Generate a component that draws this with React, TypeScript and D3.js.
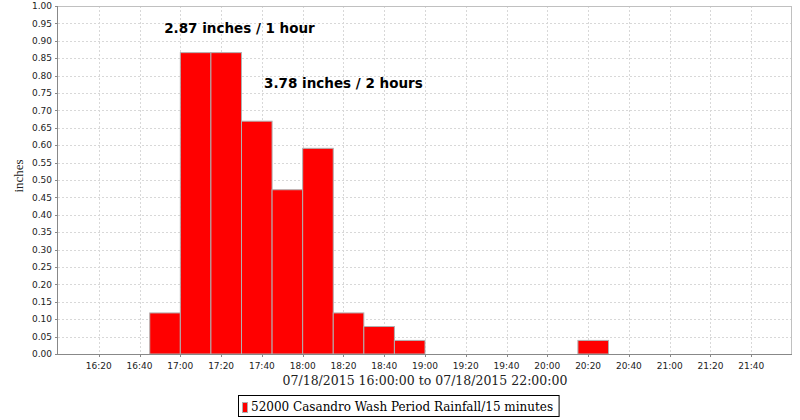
import React, { useEffect, useRef } from 'react';
import * as d3 from 'd3';

// 15-minute rainfall periods (start time of each bin) and amounts in inches
const binStarts = ['16:45', '17:00', '17:15', '17:30', '17:45', '18:00', '18:15', '18:30', '18:45', '20:15'];
const rainfall = [0.118, 0.866, 0.866, 0.669, 0.472, 0.591, 0.118, 0.079, 0.039, 0.039];

const xTickLabels = ['16:20', '16:40', '17:00', '17:20', '17:40', '18:00', '18:20', '18:40', '19:00', '19:20',
  '19:40', '20:00', '20:20', '20:40', '21:00', '21:20', '21:40'];
const yTickValues = [0, 0.05, 0.1, 0.15, 0.2, 0.25, 0.3, 0.35, 0.4, 0.45, 0.5, 0.55, 0.6, 0.65, 0.7, 0.75,
  0.8, 0.85, 0.9, 0.95, 1.0];

const annotationTexts = ['2.87 inches / 1 hour', '3.78 inches / 2 hours'];
const annotationTimes = ['17:29', '18:20'];
const annotationValues = [0.922, 0.764];

const seriesName = '52000 Casandro Wash Period Rainfall/15 minutes';
const xAxisTitle = '07/18/2015 16:00:00 to 07/18/2015 22:00:00';
const yAxisTitle = 'inches';

const parseTime = d3.utcParse('%Y-%m-%d %H:%M');
const t = (hm: string) => parseTime(`2015-07-18 ${hm}`) as Date;

const App: React.FC = () => {
  const ref = useRef<SVGSVGElement>(null);

  useEffect(() => {
    if (!ref.current) return;
    const svg = d3.select(ref.current);
    svg.selectAll('*').remove();

    const margin = { top: 6, right: 8, bottom: 66, left: 58 };
    const width = 800, height = 420;
    const x0 = margin.left, x1 = width - margin.right;
    const y0 = height - margin.bottom, y1 = margin.top;

    const x = d3.scaleUtc().domain([t('16:00'), t('22:00')]).range([x0, x1]);
    const y = d3.scaleLinear().domain([0, 1]).range([y0, y1]);

    const tickFont = 'DejaVu Sans, sans-serif';

    // fond
    svg.append('rect').attr('width', width).attr('height', height).attr('fill', '#fff');

    // grille
    const grid = svg.append('g').attr('stroke', '#d8d8d8').attr('stroke-dasharray', '2,2').attr('stroke-width', 1);
    grid.selectAll('.vg').data(xTickLabels).enter().append('line')
      .attr('x1', d => Math.round(x(t(d))) + 0.5).attr('x2', d => Math.round(x(t(d))) + 0.5)
      .attr('y1', y1).attr('y2', y0);
    grid.selectAll('.hg').data(yTickValues).enter().append('line')
      .attr('x1', x0).attr('x2', x1)
      .attr('y1', d => Math.round(y(d)) + 0.5).attr('y2', d => Math.round(y(d)) + 0.5);

    // barres
    svg.append('g').selectAll('rect').data(binStarts).enter().append('rect')
      .attr('x', d => x(t(d)))
      .attr('width', d => x(d3.utcMinute.offset(t(d), 15)) - x(t(d)))
      .attr('y', (d, i) => y(rainfall[i]))
      .attr('height', (d, i) => y0 - y(rainfall[i]))
      .attr('fill', '#ff0000')
      .attr('stroke', '#b0b0b0')
      .attr('stroke-width', 1);

    // bordure du tracé
    svg.append('line').attr('x1', x0).attr('x2', x1).attr('y1', y1 + 0.5).attr('y2', y1 + 0.5).attr('stroke', '#c0c0c0');
    svg.append('line').attr('x1', x1 - 0.5).attr('x2', x1 - 0.5).attr('y1', y1).attr('y2', y0).attr('stroke', '#c0c0c0');
    svg.append('line').attr('x1', x0 - 0.5).attr('x2', x0 - 0.5).attr('y1', y1).attr('y2', y0 + 1).attr('stroke', '#888');
    svg.append('line').attr('x1', x0).attr('x2', x1).attr('y1', y0 + 0.5).attr('y2', y0 + 0.5).attr('stroke', '#888');

    // axe x
    const xg = svg.append('g');
    xg.selectAll('line').data(xTickLabels).enter().append('line')
      .attr('x1', d => Math.round(x(t(d))) + 0.5).attr('x2', d => Math.round(x(t(d))) + 0.5)
      .attr('y1', y0 + 1).attr('y2', y0 + 3).attr('stroke', '#888');
    xg.selectAll('text').data(xTickLabels).enter().append('text')
      .attr('x', d => x(t(d))).attr('y', y0 + 15)
      .attr('text-anchor', 'middle')
      .style('font-family', tickFont).style('font-size', '9px').attr('fill', '#222')
      .text(d => d3.utcFormat('%H:%M')(t(d)));

    // axe y
    const yg = svg.append('g');
    yg.selectAll('line').data(yTickValues).enter().append('line')
      .attr('x1', x0 - 3).attr('x2', x0 - 1)
      .attr('y1', d => Math.round(y(d)) + 0.5).attr('y2', d => Math.round(y(d)) + 0.5).attr('stroke', '#888');
    yg.selectAll('text').data(yTickValues).enter().append('text')
      .attr('x', x0 - 6).attr('y', d => y(d)).attr('dy', '0.35em')
      .attr('text-anchor', 'end')
      .style('font-family', tickFont).style('font-size', '9px').attr('fill', '#222')
      .text(d => d3.format('.2f')(d));

    // titres des axes
    svg.append('text')
      .attr('x', (x0 + x1) / 2).attr('y', y0 + 31)
      .attr('text-anchor', 'middle')
      .style('font-family', 'DejaVu Serif, serif').style('font-size', '12.5px').attr('fill', '#222')
      .text(xAxisTitle);
    svg.append('text')
      .attr('transform', `translate(23, ${(y0 + y1) / 2 - 4}) rotate(-90)`)
      .attr('text-anchor', 'middle')
      .style('font-family', 'Liberation Serif, serif').style('font-size', '13px').attr('fill', '#222')
      .text(yAxisTitle);

    // annotations
    svg.append('g').selectAll('text').data(annotationTexts).enter().append('text')
      .attr('x', (d, i) => x(t(annotationTimes[i])))
      .attr('y', (d, i) => y(annotationValues[i]))
      .attr('text-anchor', 'middle')
      .style('font-family', tickFont).style('font-size', '13.5px').style('font-weight', 'bold').attr('fill', '#000')
      .text(d => d);

    // légende
    const leg = svg.append('g');
    const legText = leg.append('text')
      .attr('x', 251).attr('y', 411)
      .style('font-family', 'DejaVu Serif, serif').style('font-size', '12px').attr('fill', '#000')
      .text(seriesName);
    const bb = (legText.node() as SVGTextElement).getBBox();
    leg.insert('rect', 'text')
      .attr('x', 238.5).attr('y', 395.5)
      .attr('width', bb.x + bb.width + 6 - 238.5).attr('height', 21)
      .attr('fill', '#fff').attr('stroke', '#000');
    leg.append('rect')
      .attr('x', 242.5).attr('y', 402.5).attr('width', 5).attr('height', 10)
      .attr('fill', '#ff0000').attr('stroke', '#b0b0b0');
  }, []);

  return (
    <div style={{ position: 'absolute', left: 0, top: 0 }}>
      <svg ref={ref} width={800} height={420} />
    </div>
  );
};

export default App;
